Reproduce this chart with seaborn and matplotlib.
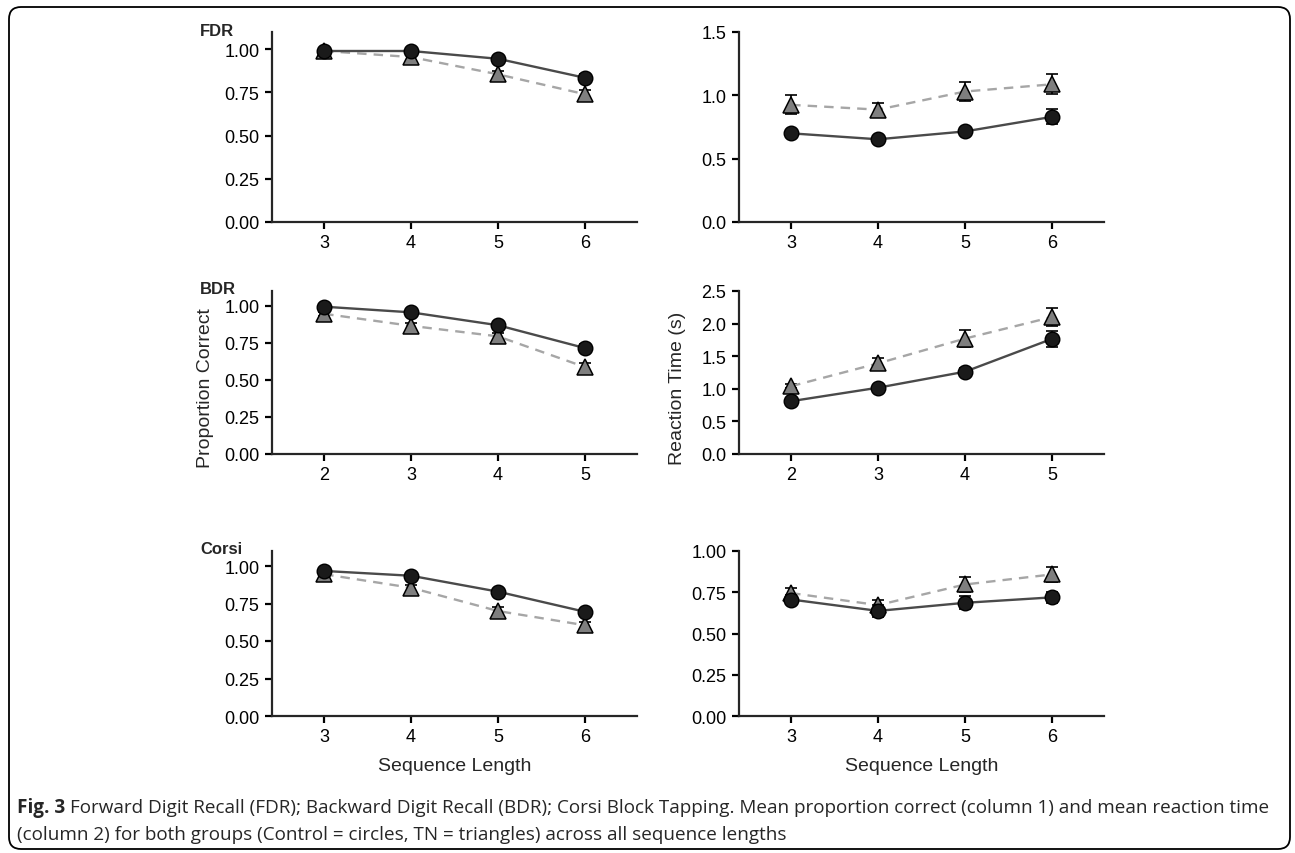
import pandas as pd
import matplotlib.pyplot as plt
import seaborn as sns
from matplotlib import font_manager
from matplotlib.patches import FancyBboxPatch

# Sequence lengths per task
len_fdr = [3, 4, 5, 6]
len_bdr = [2, 3, 4, 5]
len_corsi = [3, 4, 5, 6]

# Proportion correct (column 1)
fdr_acc_ctrl = [0.99, 0.99, 0.945, 0.835]
fdr_acc_tn = [0.99, 0.955, 0.855, 0.74]
fdr_acc_ctrl_err = [0.01, 0.01, 0.015, 0.02]
fdr_acc_tn_err = [0.01, 0.015, 0.02, 0.025]

bdr_acc_ctrl = [0.994, 0.956, 0.869, 0.715]
bdr_acc_tn = [0.946, 0.865, 0.794, 0.587]
bdr_acc_ctrl_err = [0.01, 0.015, 0.02, 0.025]
bdr_acc_tn_err = [0.015, 0.02, 0.025, 0.03]

corsi_acc_ctrl = [0.967, 0.935, 0.829, 0.695]
corsi_acc_tn = [0.945, 0.855, 0.70, 0.605]
corsi_acc_ctrl_err = [0.01, 0.015, 0.015, 0.02]
corsi_acc_tn_err = [0.015, 0.02, 0.025, 0.025]

# Reaction time in seconds (column 2)
fdr_rt_ctrl = [0.70, 0.653, 0.715, 0.83]
fdr_rt_tn = [0.925, 0.887, 1.03, 1.087]
fdr_rt_ctrl_err = [0.015, 0.015, 0.03, 0.06]
fdr_rt_tn_err = [0.075, 0.05, 0.072, 0.078]

bdr_rt_ctrl = [0.81, 1.017, 1.262, 1.765]
bdr_rt_tn = [1.04, 1.39, 1.77, 2.10]
bdr_rt_ctrl_err = [0.03, 0.04, 0.06, 0.12]
bdr_rt_tn_err = [0.03, 0.09, 0.13, 0.14]

corsi_rt_ctrl = [0.706, 0.637, 0.686, 0.719]
corsi_rt_tn = [0.745, 0.672, 0.797, 0.858]
corsi_rt_ctrl_err = [0.03, 0.035, 0.04, 0.035]
corsi_rt_tn_err = [0.03, 0.03, 0.045, 0.045]

panel_names = ['FDR', 'BDR', 'Corsi']
caption_1 = ('Forward Digit Recall (FDR); Backward Digit Recall (BDR); Corsi Block Tapping. '
             'Mean proportion correct (column 1) and mean reaction time')
caption_2 = '(column 2) for both groups (Control = circles, TN = triangles) across all sequence lengths'

rows = []
def add(task, measure, lengths, ctrl, tn, ctrl_err, tn_err):
    for i, L in enumerate(lengths):
        rows.append(dict(task=task, measure=measure, length=L, group='Control', value=ctrl[i], err=ctrl_err[i]))
        rows.append(dict(task=task, measure=measure, length=L, group='TN', value=tn[i], err=tn_err[i]))

add('FDR', 'acc', len_fdr, fdr_acc_ctrl, fdr_acc_tn, fdr_acc_ctrl_err, fdr_acc_tn_err)
add('BDR', 'acc', len_bdr, bdr_acc_ctrl, bdr_acc_tn, bdr_acc_ctrl_err, bdr_acc_tn_err)
add('Corsi', 'acc', len_corsi, corsi_acc_ctrl, corsi_acc_tn, corsi_acc_ctrl_err, corsi_acc_tn_err)
add('FDR', 'rt', len_fdr, fdr_rt_ctrl, fdr_rt_tn, fdr_rt_ctrl_err, fdr_rt_tn_err)
add('BDR', 'rt', len_bdr, bdr_rt_ctrl, bdr_rt_tn, bdr_rt_ctrl_err, bdr_rt_tn_err)
add('Corsi', 'rt', len_corsi, corsi_rt_ctrl, corsi_rt_tn, corsi_rt_ctrl_err, corsi_rt_tn_err)
df = pd.DataFrame(rows)

sns.set_style('ticks')
plt.rcParams['font.family'] = ['Liberation Sans', 'DejaVu Sans']

installed = {f.name for f in font_manager.fontManager.ttflist}
cap_font = 'Liberation Sans Narrow' if 'Liberation Sans Narrow' in installed else 'Open Sans'

fig = plt.figure(figsize=(12.95, 8.54), dpi=100)

# axes positions in pixels: left, top, right, bottom
col_x = [(272, 637), (739, 1104)]
row_y = [(33, 223), (292, 455), (552, 717)]
ylims = {'acc': [(0, 1.1)] * 3, 'rt': [(0, 1.5), (0, 2.5), (0, 1.0)]}
yticks = {'acc': [[0, 0.25, 0.5, 0.75, 1.0]] * 3,
          'rt': [[0, 0.5, 1.0, 1.5], [0, 0.5, 1.0, 1.5, 2.0, 2.5], [0, 0.25, 0.5, 0.75, 1.0]]}
ylabel_x = {'acc': -0.16, 'rt': -0.145}
W, H = 1295, 854

styles = {
    'TN': dict(color='#a6a6a6', linestyle=(0, (4, 3)), marker='^', markersize=12,
               markerfacecolor='#7f7f7f', markeredgecolor='black', markeredgewidth=1.1),
    'Control': dict(color='#4a4a4a', linestyle='-', marker='o', markersize=10.5,
                    markerfacecolor='#1a1a1a', markeredgecolor='black', markeredgewidth=1.0),
}

for c, measure in enumerate(['acc', 'rt']):
    for r, task in enumerate(panel_names):
        x0, x1 = col_x[c]
        t, b = row_y[r]
        ax = fig.add_axes([x0 / W, 1 - b / H, (x1 - x0) / W, (b - t) / H])
        sub = df[(df.task == task) & (df.measure == measure)]
        z = 2
        for g in ['TN', 'Control']:
            d = sub[sub.group == g]
            ax.errorbar(d['length'], d['value'], yerr=d['err'], fmt='none', ecolor='black',
                        elinewidth=1.2, capsize=4, capthick=1.2, zorder=z)
            sns.lineplot(data=d, x='length', y='value', ax=ax, linewidth=1.7, zorder=z + 1,
                         **styles[g])
            z += 2
        lengths = sorted(sub['length'].unique())
        ax.set_xticks(lengths)
        ax.set_xlim(lengths[0] - 0.6, lengths[-1] + 0.6)
        ax.set_ylim(*ylims[measure][r])
        ax.set_yticks(yticks[measure][r])
        if measure == 'acc' or r == 2:
            ax.yaxis.set_major_formatter(plt.FormatStrFormatter('%.2f'))
        else:
            ax.yaxis.set_major_formatter(plt.FormatStrFormatter('%.1f'))
        sns.despine(ax=ax)
        for s in ['left', 'bottom']:
            ax.spines[s].set_linewidth(1.6)
        ax.tick_params(labelsize=13, width=1.6, length=5, pad=4, colors='black')
        ax.set_xlabel('Sequence Length' if r == 2 else '', fontsize=14, labelpad=8)
        if r == 1:
            ax.set_ylabel('Proportion Correct' if measure == 'acc' else 'Reaction Time (s)',
                          fontsize=14)
            ax.yaxis.set_label_coords(ylabel_x[measure], 0.41)
        else:
            ax.set_ylabel('')
        if c == 0:
            fig.text(200 / W, 1 - (t - 2) / H, task, fontsize=12, fontweight='bold',
                     va='center', ha='left')

# caption
fs = 13.6
fig_lbl = fig.text(17 / W, 1 - 808 / H, 'Fig. 3', fontsize=fs, fontweight='bold', family=cap_font,
                   va='center', ha='left')
fig.canvas.draw()
bb = fig_lbl.get_window_extent()
fig.text((bb.x1 + 5) / W, 1 - 808 / H, caption_1, fontsize=fs, family=cap_font,
         va='center', ha='left')
fig.text(17 / W, 1 - 835 / H, caption_2, fontsize=fs, family=cap_font, va='center', ha='left')

# rounded frame around the figure
frame = FancyBboxPatch((0.09, 0.04), 12.81, 8.42, boxstyle='round,pad=0,rounding_size=0.12',
                       transform=fig.dpi_scale_trans, fill=False, linewidth=1.3, edgecolor='black')
fig.add_artist(frame)

plt.savefig('out.png', dpi=100)
plt.close()
